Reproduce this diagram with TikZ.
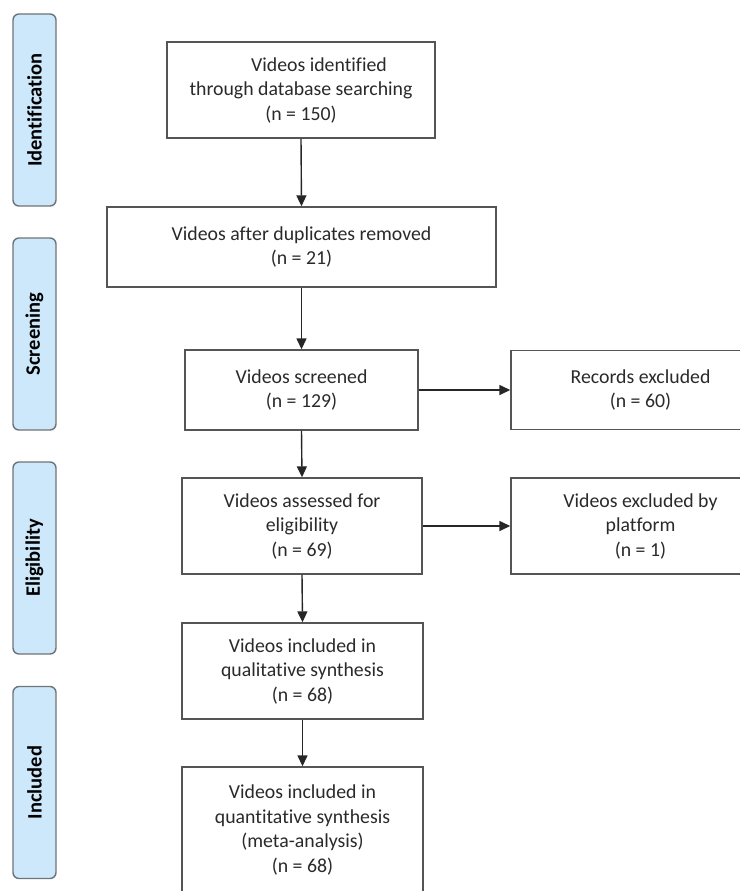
\documentclass[tikz,border=0pt]{standalone}
\usepackage{fontspec}
\setmainfont{Carlito}[Ligatures=CommonOff]
\usetikzlibrary{arrows.meta}
\definecolor{bandfill}{HTML}{CDE8FA}
\definecolor{bandline}{HTML}{6E7478}
\definecolor{boxline}{HTML}{555555}
\definecolor{txt}{HTML}{2A2A2A}
\begin{document}
\begin{tikzpicture}[x=1pt,y=-1pt,
  box/.style={draw=boxline, line width=1.4pt, fill=white, align=center, text=txt,
    font=\fontsize{19.8}{24.5}\selectfont, inner sep=0pt},
  band/.style={draw=bandline, line width=1.4pt, fill=bandfill, rounded corners=6pt,
    minimum width=43pt, minimum height=192pt, inner sep=0pt},
  bandtext/.style={rotate=90, font=\fontsize{20.5}{24}\selectfont\bfseries, text=black},
  arr/.style={-{Triangle[length=11pt,width=10pt]}, line width=1.4pt, draw=black!85}]
\useasboundingbox (0,0) rectangle (739,891);
% phase bands
\node[band] (bid) at (34.5,110) {};
\node[bandtext] at (bid.center) {Identification};
\node[band] (bsc) at (34.5,334) {};
\node[bandtext] at (bsc.center) {Screening};
\node[band] (bel) at (34.5,558) {};
\node[bandtext] at (bel.center) {Eligibility};
\node[band] (bin) at (34.5,782.5) {};
\node[bandtext] at (bin.center) {Included};
% boxes
\node[box, minimum width=268pt, minimum height=96pt] (b1) at (301,90)
  {\hspace*{36pt}Videos identified\\through database searching\\(n = 150)};
\node[box, minimum width=389pt, minimum height=80pt] (b2) at (301.5,247)
  {Videos after duplicates removed\\(n = 21)};
\node[box, minimum width=233pt, minimum height=80pt] (b3) at (301.5,390)
  {Videos screened\\(n = 129)};
\node[box, minimum width=259pt, minimum height=79pt] (r1) at (640.5,390)
  {Records excluded\\(n = 60)};
\node[box, minimum width=240pt, minimum height=96pt] (b4) at (302,526)
  {Videos assessed for\\eligibility\\(n = 69)};
\node[box, minimum width=259pt, minimum height=96pt] (r2) at (640.5,526)
  {Videos excluded by\\platform\\(n = 1)};
\node[box, minimum width=241pt, minimum height=96pt] (b5) at (302.5,671)
  {Videos included in\\qualitative synthesis\\(n = 68)};
\node[box, minimum width=241pt, minimum height=126pt] (b6) at (302.5,830)
  {Videos included in\\quantitative synthesis\\(meta-analysis)\\(n = 68)};
% connectors
\draw[arr] (b1.south) -- (b2.north);
\draw[arr] (b2.south) -- (b3.north);
\draw[arr] (b3.south) -- (b4.north);
\draw[arr] (b4.south) -- (b5.north);
\draw[arr] (b5.south) -- (b6.north);
\draw[arr] (b3.east) -- (r1.west);
\draw[arr] (b4.east) -- (r2.west);
\end{tikzpicture}
\end{document}
